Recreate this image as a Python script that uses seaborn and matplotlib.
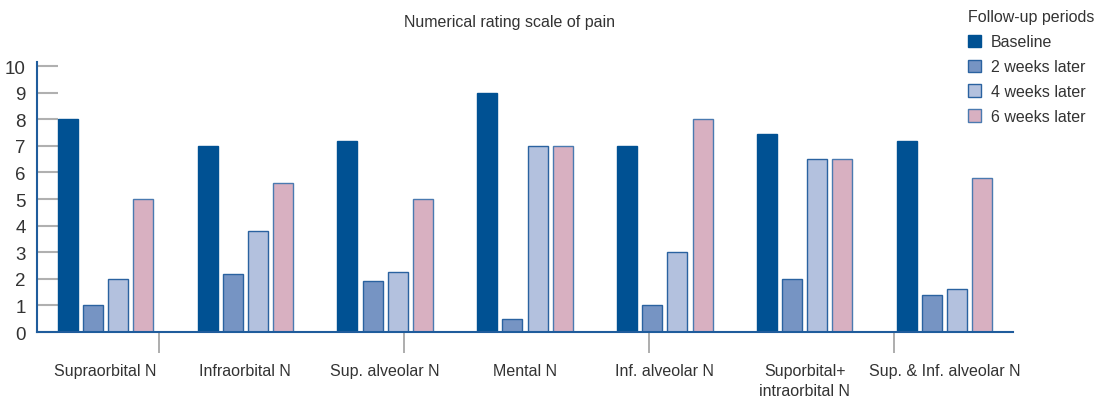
import pandas as pd
import seaborn as sns
import matplotlib
import matplotlib.pyplot as plt
from matplotlib.patches import Patch
matplotlib.use('Agg')

nerves = ['Supraorbital N', 'Infraorbital N', 'Sup. alveolar N', 'Mental N',
          'Inf. alveolar N', 'Suporbital+\nintraorbital N', 'Sup. & Inf. alveolar N']
periods = ['Baseline', '2 weeks later', '4 weeks later', '6 weeks later']
baseline = [8, 7, 7.2, 9, 7, 7.45, 7.2]
weeks2 = [1, 2.2, 1.9, 0.5, 1, 2, 1.4]
weeks4 = [2, 3.8, 2.25, 7, 3, 6.5, 1.6]
weeks6 = [5, 5.6, 5, 7, 8, 6.5, 5.8]
colors = ['#005193', '#7694c3', '#b3c1de', '#d8b0c1']
edges = ['#005193', '#2a62a0', '#2a62a0', '#4a7ab0']

rows = []
for p, vals in zip(periods, [baseline, weeks2, weeks4, weeks6]):
    for n, v in zip(nerves, vals):
        rows.append({'nerve': n, 'score': v, 'period': p})
df = pd.DataFrame(rows)

sns.set_style('white')
plt.rcParams['font.family'] = ['Liberation Sans', 'DejaVu Sans']
plt.rcParams['text.color'] = '#333333'

fig = plt.figure(figsize=(10.98, 4.02), dpi=100)
ax = fig.add_axes([0.0337, 0.1716, 0.8889, 0.6714])

sns.barplot(data=df, x='nerve', y='score', hue='period', palette=colors,
            width=0.72, gap=0.2, saturation=1, ax=ax, legend=False)

# edge colours per period
for cont, ec in zip(ax.containers, edges):
    for bar in cont:
        bar.set_edgecolor(ec)
        bar.set_linewidth(1.0)

ax.set_xlim(-0.49, 6.49)
ax.set_ylim(0, 10.15)
ax.set_yticks(range(0, 11))
ax.set_xlabel('')
ax.set_ylabel('')

for s in ['top', 'right']:
    ax.spines[s].set_visible(False)
for s in ['left', 'bottom']:
    ax.spines[s].set_color('#1f5c9c')
    ax.spines[s].set_linewidth(1.5)

ax.tick_params(axis='y', direction='in', length=15, color='#b0b0b0', width=1.5,
               labelsize=13.5, pad=8, labelcolor='#333333', left=True)
ax.tick_params(axis='x', which='major', length=0, pad=22, labelsize=11.5,
               labelcolor='#333333')
for lab in ax.get_xticklabels():
    lab.set_linespacing(1.45)
ax.set_xticks([0.386, 2.136, 3.886, 5.636], minor=True)
ax.tick_params(axis='x', which='minor', length=15, color='#a0a0a0', width=1.2,
               direction='out', bottom=True)

fig.text(0.4636, 0.945, 'Numerical rating scale of pain', ha='center', va='center',
         fontsize=11.5, color='#333333')

handles = [Patch(facecolor=c, edgecolor=e, linewidth=1) for c, e in zip(colors, edges)]
leg = fig.legend(handles, periods, title='Follow-up periods', loc='upper left',
                 bbox_to_anchor=(0.876, 0.99), frameon=False, fontsize=11.5,
                 title_fontsize=11.5, handlelength=0.8, handleheight=0.8,
                 handletextpad=0.6, labelspacing=0.62, borderaxespad=0)
leg._legend_box.align = 'left'

fig.savefig('out.png', dpi=100)
